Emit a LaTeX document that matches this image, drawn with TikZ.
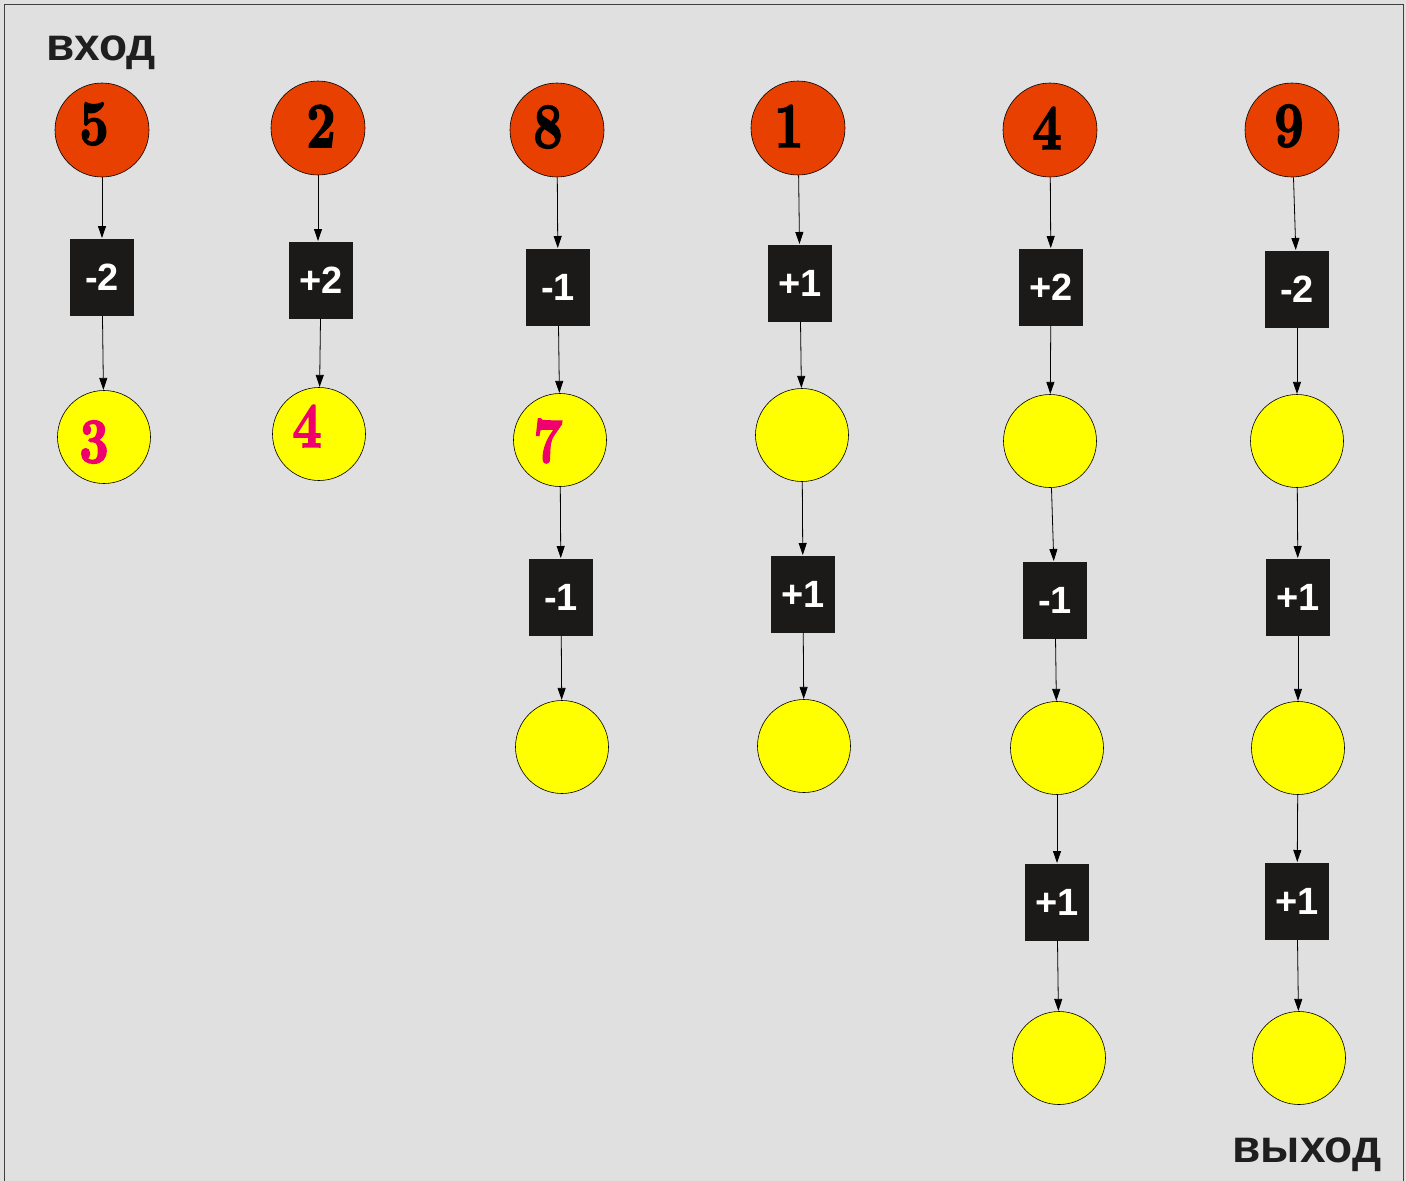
\documentclass[tikz,border=0pt]{standalone}
\usepackage{fontspec}
\usepackage{graphicx}
\newfontfamily\arialf{Liberation Sans}
\newfontfamily\digf{lmroman10-bold}[Extension=.otf,BoldFont=lmroman10-bold,BoldFeatures={FakeBold=2.5}]
\usetikzlibrary{arrows.meta}
\definecolor{bg}{RGB}{224,224,224}
\definecolor{redc}{RGB}{232,64,0}
\definecolor{yelc}{RGB}{255,255,0}
\definecolor{pinkc}{RGB}{240,0,110}
\definecolor{boxc}{RGB}{28,26,24}
\newcommand{\dg}[1]{\scalebox{0.8}[1]{#1}}
\tikzset{
  incirc/.style={circle,draw=black,line width=0.6pt,fill=redc,minimum size=94pt,inner sep=0pt},
  outcirc/.style={circle,draw=black,line width=0.6pt,fill=yelc,minimum size=93pt,inner sep=0pt},
  opbox/.style={rectangle,fill=boxc,minimum width=64pt,minimum height=77pt,inner sep=0pt,text=white,font=\arialf\bfseries\fontsize{38}{38}\selectfont},
  innum/.style={inner sep=0pt,text=black,font=\digf\bfseries\fontsize{64}{64}\selectfont},
  outnum/.style={inner sep=0pt,text=pinkc,font=\digf\bfseries\fontsize{64}{64}\selectfont},
  conn/.style={-{Triangle[length=12pt,width=8pt]},line width=0.8pt,shorten >=0.3pt},
  lbl/.style={inner sep=0pt,text=black!88,font=\arialf\bfseries\fontsize{46}{46}\selectfont}
}
\begin{document}
\begin{tikzpicture}[x=1pt,y=-1pt]
\useasboundingbox (0,0) rectangle (1406,1181);
\fill[bg] (0,0) rectangle (1406,1181);
\draw[line width=1pt,black!75] (4,4) rectangle (1403,1182);

\node[lbl,anchor=base] (inlbl) at (101,60) {вход};
\node[lbl,anchor=base] (outlbl) at (1307,1162) {выход};

% column 1
\node[incirc] (c1a) at (102,130) {};
\node[opbox] (b1a) at (102,277) {-2};
\node[outcirc] (c1b) at (104,437) {};
\draw[conn] (c1a) -- (b1a);
\draw[conn] (b1a) -- (c1b);
\node[innum] (n1a) at (94,124) {\dg{5}};
\node[outnum] (n1b) at (94,442) {\dg{3}};

% column 2
\node[incirc] (c2a) at (318,128) {};
\node[opbox] (b2a) at (321,280) {+2};
\node[outcirc] (c2b) at (319,434) {};
\draw[conn] (c2a.south) -- (b2a.north -| c2a.south);
\draw[conn] (b2a) -- (c2b);
\node[innum] (n2a) at (321,126) {\dg{2}};
\node[outnum] (n2b) at (307,426) {\dg{4}};

% column 3
\node[incirc] (c3a) at (557,130) {};
\node[opbox] (b3a) at (558,287) {-1};
\node[outcirc] (c3b) at (560,440) {};
\node[opbox] (b3b) at (561,597) {-1};
\node[outcirc] (c3c) at (562,747) {};
\draw[conn] (c3a) -- (b3a);
\draw[conn] (b3a) -- (c3b);
\draw[conn] (c3b) -- (b3b);
\draw[conn] (b3b) -- (c3c);
\node[innum] (n3a) at (548,127) {\dg{8}};
\node[outnum] (n3b) at (548,441) {\dg{7}};

% column 4
\node[incirc] (c4a) at (798,128) {};
\node[opbox] (b4a) at (800,283) {+1};
\node[outcirc] (c4b) at (802,435) {};
\node[opbox] (b4b) at (803,594) {+1};
\node[outcirc] (c4c) at (804,746) {};
\draw[conn] (c4a) -- (b4a);
\draw[conn] (b4a) -- (c4b);
\draw[conn] (c4b) -- (b4b);
\draw[conn] (b4b) -- (c4c);
\node[innum] (n4a) at (789,126) {\dg{1}};

% column 5
\node[incirc] (c5a) at (1050,130) {};
\node[opbox] (b5a) at (1051,287) {+2};
\node[outcirc] (c5b) at (1050,441) {};
\node[opbox] (b5b) at (1055,600) {-1};
\node[outcirc] (c5c) at (1057,748) {};
\node[opbox] (b5c) at (1057,902) {+1};
\node[outcirc] (c5d) at (1059,1058) {};
\draw[conn] (c5a) -- (b5a);
\draw[conn] (b5a) -- (c5b);
\draw[conn] (c5b) -- (b5b);
\draw[conn] (b5b) -- (c5c);
\draw[conn] (c5c) -- (b5c);
\draw[conn] (b5c) -- (c5d);
\node[innum] (n5a) at (1047,128) {\dg{4}};

% column 6
\node[incirc] (c6a) at (1292,130) {};
\node[opbox] (b6a) at (1297,289) {-2};
\node[outcirc] (c6b) at (1297,441) {};
\node[opbox] (b6b) at (1298,597) {+1};
\node[outcirc] (c6c) at (1298,748) {};
\node[opbox] (b6c) at (1297,901) {+1};
\node[outcirc] (c6d) at (1299,1058) {};
\draw[conn] (c6a) -- (b6a);
\draw[conn] (b6a) -- (c6b);
\draw[conn] (c6b) -- (b6b);
\draw[conn] (b6b) -- (c6c);
\draw[conn] (c6c) -- (b6c);
\draw[conn] (b6c) -- (c6d);
\node[innum] (n6a) at (1289,126) {\dg{9}};
\end{tikzpicture}
\end{document}
